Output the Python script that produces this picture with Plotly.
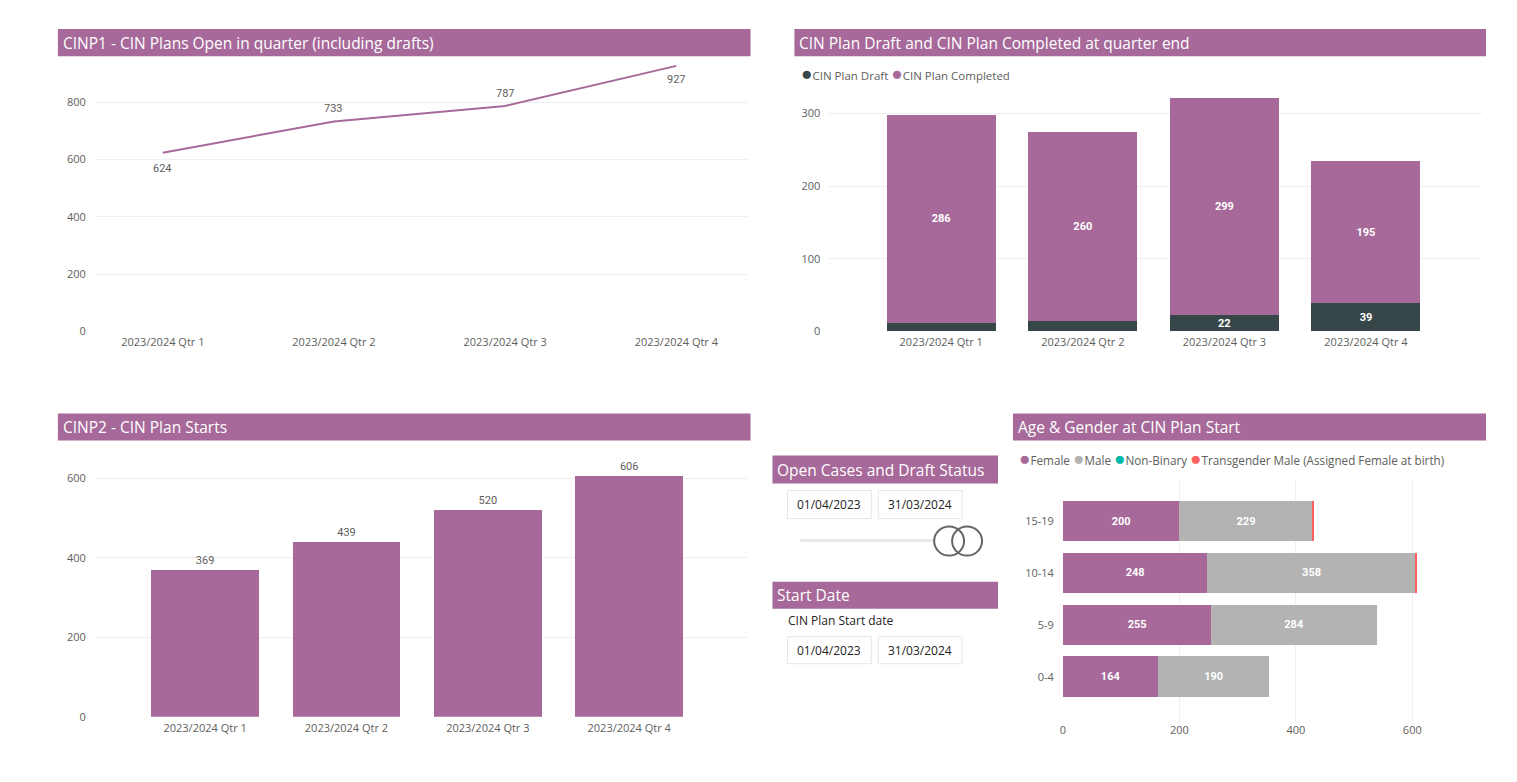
import plotly.graph_objects as go

# =============================
# Data
# =============================
quarters = ["2023/2024 Qtr 1", "2023/2024 Qtr 2", "2023/2024 Qtr 3", "2023/2024 Qtr 4"]
open_plans = [624, 733, 787, 927]          # CINP1
draft = [12, 14, 22, 39]                    # CIN Plan Draft
completed = [286, 260, 299, 195]            # CIN Plan Completed
starts = [369, 439, 520, 606]               # CINP2

age_bands = ["0-4", "5-9", "10-14", "15-19"]
female = [164, 255, 248, 200]
male = [190, 284, 358, 229]
non_binary = [0, 0, 0, 0]
trans_male = [0, 0, 1, 1]

date_from = "01/04/2023"
date_to = "31/03/2024"

# =============================
# Styling
# =============================
# the page body has an 8px margin, so the figure is shrunk and shifted to compensate;
# the captured page also comes out slightly taller, so vertical positions get a small stretch
OFF = 8
KY = 1.0102
W, H = 1517 - 2 * OFF, 782 - 2 * OFF
PURPLE = "#a66999"
DARK = "#374649"
GREY = "#b3b3b3"
TEAL = "#01b8aa"
RED = "#fd625e"
TXT = "#605e5c"
GRID = "#eeeeee"
FONT = "Open Sans"
LBL_FONT = "Roboto"


def fx(p):
    return (p - OFF) / W


def fy(p):
    return 1 - (p * KY - OFF) / H


fig = go.Figure()

# CINP1 line
fig.add_trace(go.Scatter(
    x=quarters, y=open_plans, mode="lines",
    line=dict(color=PURPLE, width=2),
    xaxis="x", yaxis="y", showlegend=False, hoverinfo="skip",
))

# Draft / Completed stacked
fig.add_trace(go.Bar(
    x=quarters, y=draft, marker=dict(color=DARK, line=dict(width=0)), width=0.77,
    text=[str(v) if v >= 20 else "" for v in draft], textposition="inside",
    insidetextanchor="middle", textangle=0, constraintext="none",
    textfont=dict(family=LBL_FONT, size=11, color="white", weight="bold"),
    xaxis="x2", yaxis="y2", showlegend=False, hoverinfo="skip",
))
fig.add_trace(go.Bar(
    x=quarters, y=completed, marker=dict(color=PURPLE, line=dict(width=0)), width=0.77,
    text=[str(v) for v in completed], textposition="inside",
    insidetextanchor="middle", textangle=0, constraintext="none",
    textfont=dict(family=LBL_FONT, size=11, color="white", weight="bold"),
    xaxis="x2", yaxis="y2", showlegend=False, hoverinfo="skip",
))

# CINP2 bars
fig.add_trace(go.Bar(
    x=quarters, y=starts, marker=dict(color=PURPLE, line=dict(width=0)), width=0.76,
    text=[str(v) for v in starts], textposition="outside", cliponaxis=False,
    textfont=dict(family=LBL_FONT, size=11, color=TXT),
    xaxis="x3", yaxis="y3", showlegend=False, hoverinfo="skip",
))

# Age & gender
for vals, col, show in [(female, PURPLE, True), (male, GREY, True),
                        (non_binary, TEAL, False), (trans_male, RED, False)]:
    fig.add_trace(go.Bar(
        y=age_bands, x=vals, orientation="h", width=0.78,
        marker=dict(color=col, line=dict(width=0)),
        text=[str(v) for v in vals] if show else None,
        textposition="inside" if show else "none",
        insidetextanchor="middle", textangle=0, constraintext="none",
        textfont=dict(family=LBL_FONT, size=11, color="white", weight="bold"),
        xaxis="x4", yaxis="y4", showlegend=False, hoverinfo="skip",
    ))

tick_font = dict(family=FONT, size=11, color=TXT)


def cat_axis(x0, x1, rng):
    return dict(domain=[fx(x0), fx(x1)], range=rng, showgrid=False, zeroline=False,
                showline=False, ticks="", tickfont=tick_font, ticklabelstandoff=3,
                fixedrange=True)


def val_axis(y_top, y_bot, rng, dtick):
    return dict(domain=[fy(y_bot), fy(y_top)], range=rng, dtick=dtick, showgrid=True,
                gridcolor=GRID, gridwidth=1, zeroline=False, showline=False, ticks="",
                tickfont=tick_font, ticklabelstandoff=8, fixedrange=True)


fig.update_layout(
    width=W, height=H, autosize=False,
    margin=dict(l=0, r=0, t=0, b=0),
    paper_bgcolor="white", plot_bgcolor="white",
    barmode="stack",
    font=dict(family=FONT, color=TXT),
    xaxis=dict(cat_axis(92, 745, [-0.397, 3.41]), anchor="y"),
    yaxis=dict(val_axis(62, 331, [0, 940], 200), anchor="x"),
    xaxis2=dict(cat_axis(828, 1482, [-0.79, 3.82]), anchor="y2"),
    yaxis2=dict(val_axis(95, 331, [0, 325], 100), anchor="x2"),
    xaxis3=dict(cat_axis(92, 745, [-0.78, 3.83]), anchor="y3"),
    yaxis3=dict(val_axis(455, 716, [0, 658], 200), anchor="x3"),
    xaxis4=dict(domain=[fx(1062), fx(1436)], range=[0, 641], dtick=200, showgrid=True,
                gridcolor=GRID, zeroline=False, showline=False, ticks="", tickfont=tick_font,
                ticklabelstandoff=1, anchor="y4", fixedrange=True),
    yaxis4=dict(domain=[fy(720), fy(479)], range=[-0.85, 3.80], type="category",
                showgrid=False, zeroline=False, ticks="", tickfont=tick_font,
                ticklabelstandoff=8, anchor="x4", fixedrange=True),
)

shapes = []
annotations = []

# CINP1 data labels: first and last below the line, middle two above
for q, v, shift in zip(quarters, open_plans, [-16, 13, 12, -14]):
    annotations.append(dict(xref="x", yref="y", x=q, y=v, yshift=shift, showarrow=False,
                            text=str(v), xanchor="center", yanchor="middle",
                            font=dict(family=LBL_FONT, size=11, color=TXT)))


def title_bar(x0, x1, y0, y1, label, size):
    shapes.append(dict(type="rect", xref="paper", yref="paper", x0=fx(x0), x1=fx(x1),
                       y0=fy(y1), y1=fy(y0), fillcolor=PURPLE, line=dict(width=0),
                       layer="below"))
    annotations.append(dict(xref="paper", yref="paper", x=fx(x0 + 3), y=fy((y0 + y1) / 2),
                            xanchor="left", yanchor="middle", showarrow=False, text=label,
                            font=dict(family=FONT, size=size, color="white")))


def date_box(x0, x1, y0, y1, label):
    shapes.append(dict(type="rect", xref="paper", yref="paper", x0=fx(x0), x1=fx(x1),
                       y0=fy(y1), y1=fy(y0), fillcolor="white",
                       line=dict(color="#e6e6e6", width=1)))
    annotations.append(dict(xref="paper", yref="paper", x=fx((x0 + x1) / 2),
                            y=fy((y0 + y1) / 2), xanchor="center", yanchor="middle",
                            showarrow=False, text=label,
                            font=dict(family=FONT, size=12, color="#252423")))


title_bar(55, 749, 29, 56, "CINP1 - CIN Plans Open in quarter (including drafts)", 15.5)
title_bar(793, 1486, 29, 56, "CIN Plan Draft and CIN Plan Completed at quarter end", 15.5)
title_bar(55, 749, 413, 440, "CINP2 - CIN Plan Starts", 15.5)
title_bar(1012, 1486, 413, 440, "Age & Gender at CIN Plan Start", 15.5)
title_bar(771, 997, 455, 483, "Open Cases and Draft Status", 15.5)
title_bar(771, 997, 581, 608, "Start Date", 15.5)

date_box(786, 870, 490, 518, date_from)
date_box(877, 961, 490, 518, date_to)
date_box(786, 870, 636, 663, date_from)
date_box(877, 961, 636, 663, date_to)

annotations.append(dict(xref="paper", yref="paper", x=fx(785), y=fy(620), xanchor="left",
                        yanchor="middle", showarrow=False, text="CIN Plan Start date",
                        font=dict(family=FONT, size=12, color="#252423")))

# slider
shapes.append(dict(type="line", xref="paper", yref="paper", x0=fx(799), x1=fx(934),
                   y0=fy(540), y1=fy(540), line=dict(color="#e8e8e8", width=3)))
for cx in (948, 966):
    shapes.append(dict(type="circle", xref="paper", yref="paper", x0=fx(cx - 15),
                       x1=fx(cx + 15), y0=fy(555), y1=fy(526),
                       fillcolor="rgba(0,0,0,0)", line=dict(color="#666666", width=2)))


def dot(col):
    return f"<span style='color:{col};font-size:19px'>●</span>"


# legends
annotations.append(dict(
    xref="paper", yref="paper", x=fx(798), y=fy(73), xanchor="left", yanchor="middle",
    showarrow=False,
    text=f"{dot(DARK)}CIN Plan Draft {dot(PURPLE)}CIN Plan Completed",
    font=dict(family=FONT, size=11.5, color=TXT)))
annotations.append(dict(
    xref="paper", yref="paper", x=fx(1016), y=fy(457), xanchor="left", yanchor="middle",
    showarrow=False,
    text=(f"{dot(PURPLE)}Female {dot(GREY)}Male {dot(TEAL)}Non-Binary "
          f"{dot(RED)}Transgender Male (Assigned Female at birth)"),
    font=dict(family=FONT, size=11.7, color=TXT)))

fig.update_layout(shapes=shapes, annotations=annotations)

fig.write_html("out.html")
